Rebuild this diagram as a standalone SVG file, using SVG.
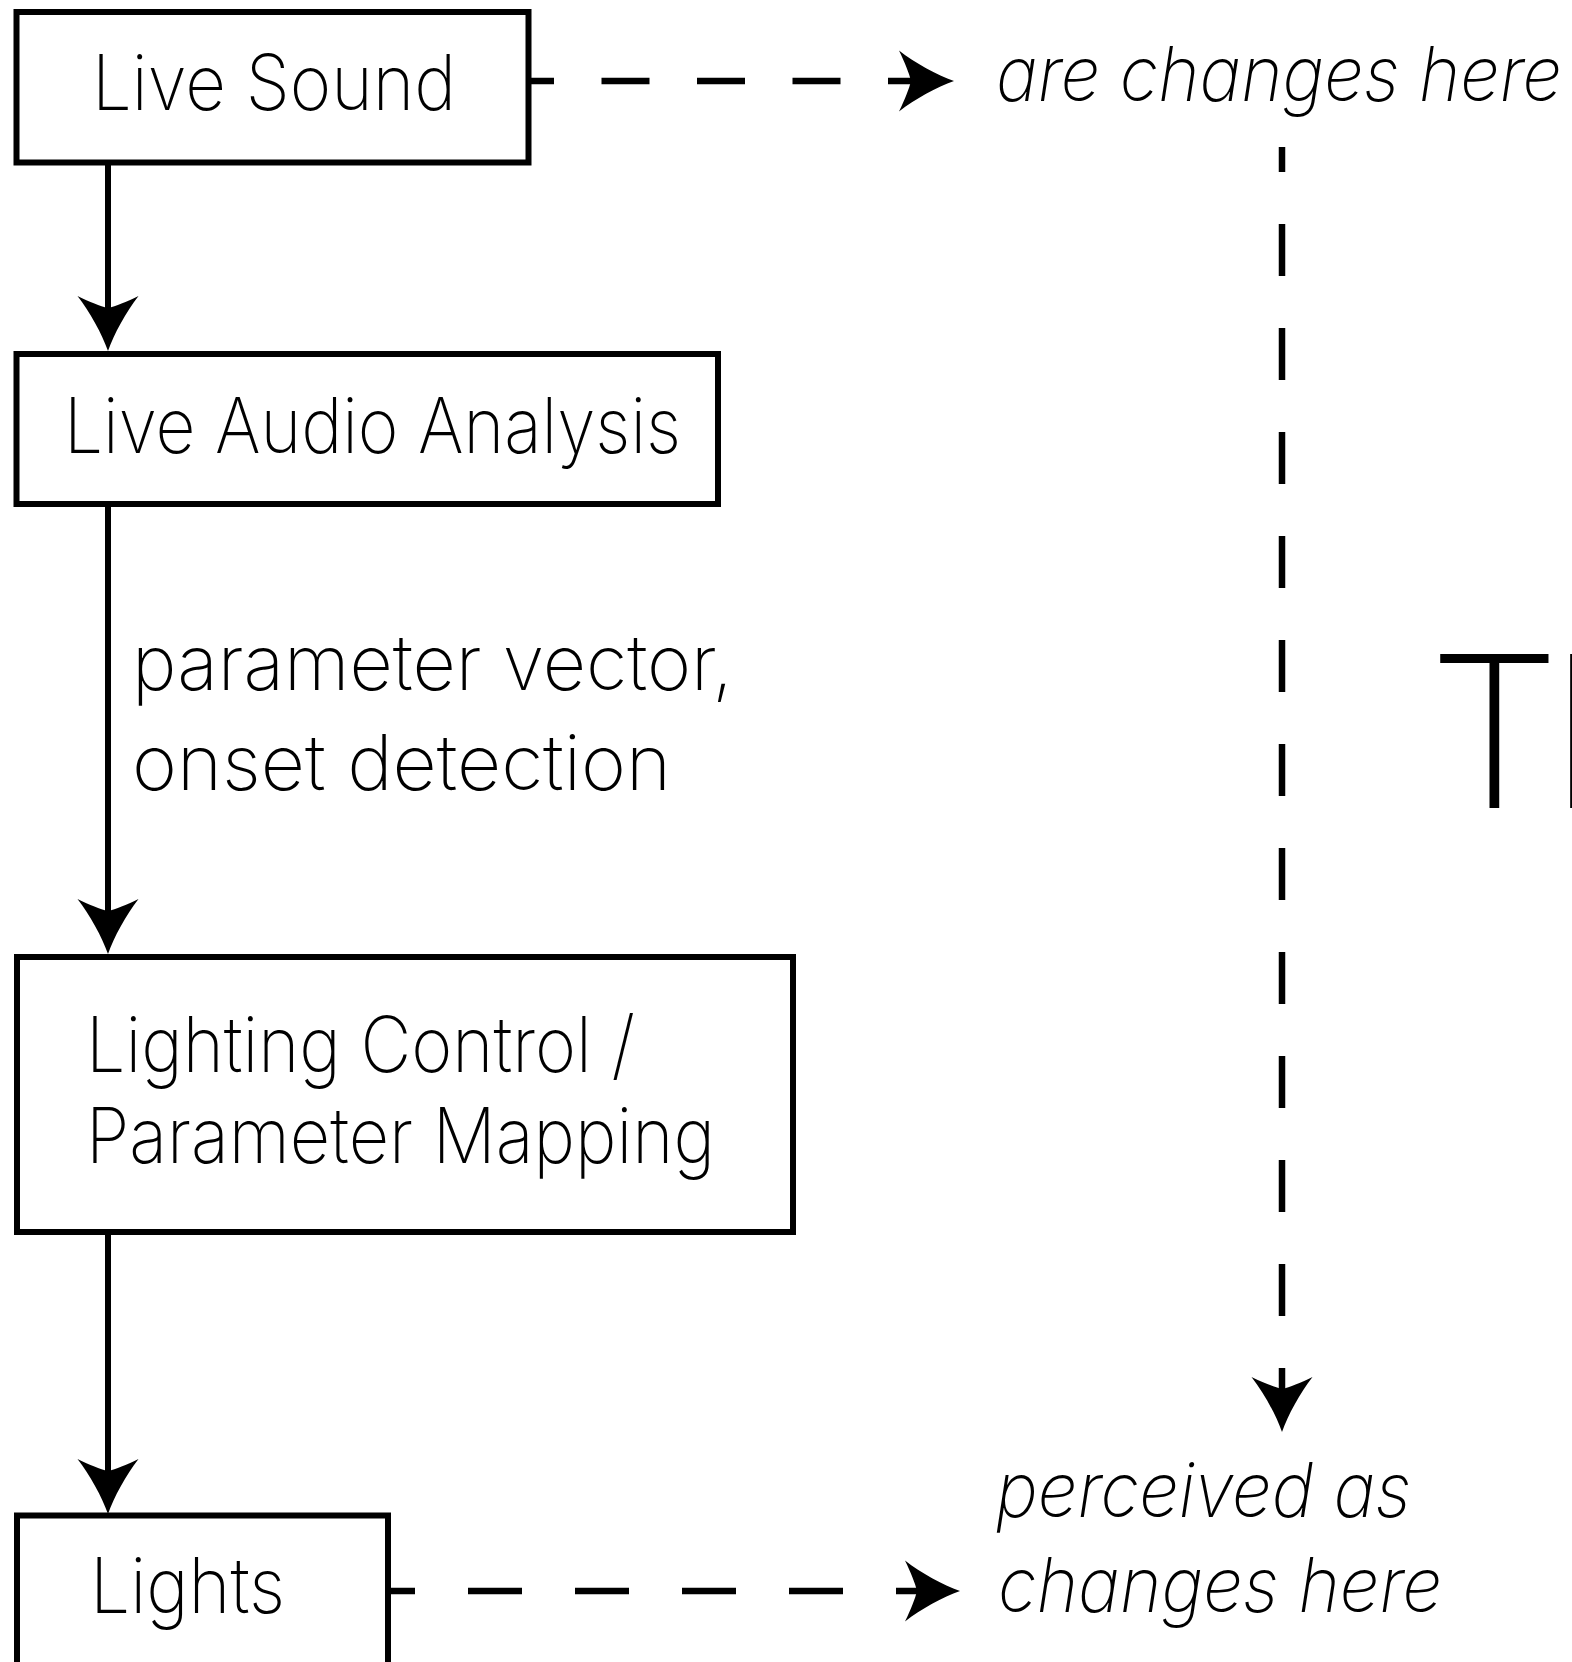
<svg xmlns="http://www.w3.org/2000/svg" width="1572" height="1662" viewBox="0 0 1572 1662">
<style>
.box{fill:#fff;stroke:#000;stroke-width:6}
.lbl{font-family:Inter,Roboto,"Liberation Sans",sans-serif;font-weight:200;font-size:77px;fill:#000}
.it{font-family:Inter,Roboto,"Liberation Sans",sans-serif;font-weight:200;font-style:italic;font-size:76px;fill:#000}
.solid{fill:none;stroke:#000;stroke-width:6}
.dash{fill:none;stroke:#000;stroke-width:6.5}
</style>
<defs>
<marker id="ah" viewBox="-16 -34 62 68" markerWidth="62" markerHeight="68" refX="0" refY="0" orient="auto" markerUnits="userSpaceOnUse">
<path d="M43,0 C26,-6 4,-18 -12,-30.5 C-6,-18 -2,-8 0,0 C-2,8 -6,18 -12,30.5 C4,18 26,6 43,0 Z" fill="#000"/>
</marker>
</defs>
<rect width="1572" height="1662" fill="#fff"/>
<g id="connectors">
<line class="solid" x1="108" y1="165" x2="108" y2="308" marker-end="url(#ah)"/>
<line class="solid" x1="108" y1="507" x2="108" y2="911" marker-end="url(#ah)"/>
<line class="solid" x1="108" y1="1235" x2="108" y2="1471" marker-end="url(#ah)"/>
<line class="dash" x1="531" y1="81" x2="911" y2="81" stroke-dasharray="48 47.5" stroke-dashoffset="25" marker-end="url(#ah)"/>
<line class="dash" x1="390" y1="1591" x2="917" y2="1591" stroke-dasharray="54 53" stroke-dashoffset="29" marker-end="url(#ah)"/>
<line class="dash" x1="1282" y1="147" x2="1282" y2="1389" stroke-dasharray="52 52" stroke-dashoffset="27" marker-end="url(#ah)"/>
</g>
<g id="live-sound">
<rect class="box" x="16.5" y="12" width="512" height="150.5"/>
<text class="lbl" x="92" y="110" textLength="364" lengthAdjust="spacingAndGlyphs">Live Sound</text>
</g>
<g id="live-audio-analysis">
<rect class="box" x="16.5" y="354" width="701.5" height="150"/>
<text class="lbl" x="64" y="453" textLength="617" lengthAdjust="spacingAndGlyphs">Live Audio Analysis</text>
</g>
<g id="edge-label">
<text class="lbl" x="132" y="690" textLength="601" lengthAdjust="spacingAndGlyphs">parameter vector,</text>
<text class="lbl" x="132" y="790" textLength="539" lengthAdjust="spacingAndGlyphs">onset detection</text>
</g>
<g id="lighting-control">
<rect class="box" x="17" y="957" width="776" height="275"/>
<text class="lbl" x="86" y="1072" textLength="549" lengthAdjust="spacingAndGlyphs">Lighting Control /</text>
<text class="lbl" x="86" y="1163" textLength="629" lengthAdjust="spacingAndGlyphs">Parameter Mapping</text>
</g>
<g id="lights">
<rect class="box" x="17" y="1515.5" width="371" height="200"/>
<text class="lbl" x="90" y="1613" textLength="195" lengthAdjust="spacingAndGlyphs">Lights</text>
</g>
<g id="are-changes-here">
<text class="it" x="996" y="101" textLength="566" lengthAdjust="spacingAndGlyphs">are changes here</text>
</g>
<g id="perceived">
<text class="it" x="996" y="1517" textLength="415" lengthAdjust="spacingAndGlyphs">perceived as</text>
<text class="it" x="998" y="1612" textLength="444" lengthAdjust="spacingAndGlyphs">changes here</text>
</g>
<g id="title">
<text class="lbl" x="1428" y="808" style="font-size:212px;font-weight:200">T<tspan x="1551">h</tspan></text>
</g>
</svg>
